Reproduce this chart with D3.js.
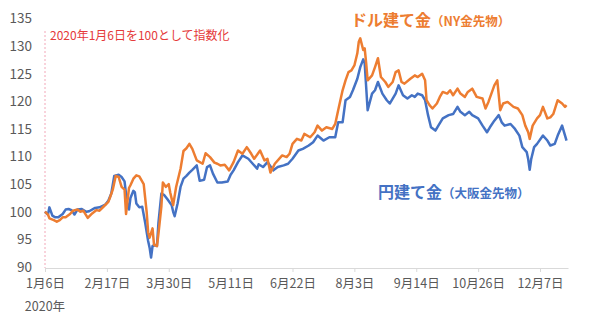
<!DOCTYPE html>
<html><head><meta charset="utf-8">
<script src="https://cdn.jsdelivr.net/npm/d3@7"></script>
<style>
body{margin:0;background:#fff}
svg{display:block}
text{font-family:"Noto Sans CJK JP","Noto Sans",sans-serif}
</style>
</head><body>
<svg id="c" width="600" height="323"></svg>
<script>
// ---- data ----
const usdDates=["01-06","01-08","01-09","01-12","01-14","01-16","01-18","01-20","01-23","01-25","01-28","01-30","02-01","02-04","02-07","02-10","02-12","02-15","02-18","02-19","02-21","02-23","02-25","02-27","02-29","03-01","03-03","03-04","03-06","03-08","03-10","03-13","03-15","03-16","03-17","03-19","03-20","03-22","03-23","03-25","03-26","03-28","03-30","03-31","04-02","04-04","04-07","04-09","04-11","04-13","04-15","04-18","04-22","04-24","04-27","04-30","05-02","05-04","05-07","05-10","05-13","05-16","05-19","05-22","05-25","05-27","05-31","06-03","06-05","06-07","06-10","06-15","06-18","06-20","06-22","06-25","06-28","06-30","07-04","07-07","07-09","07-12","07-15","07-19","07-21","07-23","07-26","07-28","07-30","08-01","08-03","08-05","08-06","08-07","08-09","08-10","08-11","08-12","08-15","08-17","08-19","08-21","08-24","08-26","08-29","08-31","09-02","09-04","09-06","09-10","09-13","09-15","09-18","09-20","09-21","09-23","09-25","09-28","09-30","10-02","10-05","10-07","10-09","10-12","10-14","10-17","10-19","10-22","10-25","10-29","10-31","11-02","11-04","11-06","11-08","11-10","11-12","11-15","11-19","11-22","11-25","11-27","11-29","11-30","12-02","12-05","12-07","12-09","12-12","12-14","12-16","12-19","12-22","12-24","12-25"];
const usdValues=[100,99.5,98.8,98.5,98.2,98.5,99,99,99.6,100.2,100.4,100,100.2,98.9,99.7,100.3,100.2,101,101.8,102.5,104,106.5,106.3,104.5,104,99.6,104.3,104.8,106,106.6,106.4,105,100,96.3,95.3,97,94,93.8,96,101,105.3,104.5,105,103.5,101.2,104.5,107.8,111,111.5,112.3,111.4,109.3,108.7,110.6,109.9,108.9,108.7,108.4,108.5,107.5,109,111.1,110.5,111.7,110.5,109.6,111.1,109.3,109.6,107.1,108.7,110.2,109.9,110.5,112.3,113.2,112.9,114.1,113.5,114.4,115.6,114.7,115.3,115,115.9,118.4,122,123.8,125.3,125.6,126.5,128.7,130.8,131.4,129.3,129.6,126.9,123.8,124.7,126.2,127.8,124.4,123.5,122.6,123.5,125.3,125.6,123.5,123.2,124.1,124.7,124.4,125,123.8,120.2,119.3,118.7,119.6,120.8,121.7,121.4,122,121.1,122.3,121.4,120.8,121.7,122.3,120.8,120.5,118.7,119.9,121.4,122.9,123.8,118.4,119.6,119.9,119,118.7,117.5,115.6,114.4,113.2,115.6,116.9,117.5,119,116.9,117.1,117.7,120.2,119.6,119,119.3];
const jpyDates=["01-06","01-08","01-09","01-11","01-13","01-15","01-18","01-20","01-22","01-24","01-26","01-28","01-31","02-03","02-05","02-09","02-12","02-16","02-18","02-20","02-22","02-25","02-27","02-29","03-02","03-03","03-04","03-06","03-07","03-08","03-10","03-12","03-14","03-16","03-17","03-18","03-19","03-21","03-22","03-23","03-25","03-27","03-29","04-01","04-02","04-03","04-05","04-07","04-09","04-11","04-13","04-15","04-18","04-20","04-23","04-25","04-27","04-29","05-02","05-05","05-09","05-11","05-13","05-16","05-19","05-23","05-26","05-29","05-30","06-02","06-05","06-09","06-12","06-16","06-19","06-22","06-26","06-29","07-03","07-06","07-09","07-13","07-17","07-21","07-23","07-26","07-28","07-31","08-02","08-05","08-07","08-09","08-10","08-11","08-12","08-15","08-17","08-19","08-22","08-25","08-27","08-31","09-02","09-05","09-08","09-11","09-13","09-15","09-18","09-20","09-22","09-24","09-27","09-29","10-02","10-06","10-09","10-12","10-14","10-17","10-20","10-22","10-26","10-29","11-01","11-03","11-06","11-09","11-11","11-13","11-17","11-20","11-23","11-25","11-28","11-29","11-30","12-01","12-03","12-05","12-09","12-12","12-14","12-17","12-19","12-22","12-24","12-25"];
const jpyValues=[100,99.5,100.8,99.3,99,99,99.6,100.4,100.5,100.3,99.5,100.4,100.5,100,100.1,100.7,100.8,101.3,102,103.3,106.5,106.7,106.3,105.5,101,100.4,102.5,103.8,103.5,101.5,100.8,100.9,98,94.7,93.5,91.7,93.8,94,93.8,98,103.3,103,102.3,101.2,100,99.2,101.5,104.5,106,106.5,107.1,107.6,108.4,105.6,105.8,108.1,108.4,106.9,105.3,105.3,105.5,106.7,107.5,109,110.2,109.6,108.7,107.8,108.6,108.1,109,107.5,108.1,108.4,108.7,109.6,111.1,111.4,112,112.6,113.8,112.9,113.5,113.5,116.2,116.2,120.2,120.8,122,124.1,126.2,127.6,126.9,122.6,118.4,121.4,122,123.5,121.4,120.2,119.6,121.4,122.9,121.1,120.5,121.1,120.8,121.4,121.1,120.2,117.5,115.3,114.7,115.6,116.9,117.5,117.7,119,118.1,117.5,118.1,117.5,116.9,115.6,114.4,115.3,116.5,117.5,116.2,115.6,115.9,115,113.8,111.7,110.8,109.5,107.6,109.5,111.7,112.3,113.8,112.9,112,112.3,113.8,115.6,113.8,112.9];
const yTicks=[90,95,100,105,110,115,120,125,130,135];
const xTickDates=["01-06","02-17","03-30","05-11","06-22","08-03","09-14","10-26","12-07"];
const yearLabel="2020年";
const noteText="2020年1月6日を100として指数化";
const usdLabel=["ドル建て金","（NY金先物）"];
const jpyLabel=["円建て金","（大阪金先物）"];

// ---- chart ----
const parse=s=>d3.utcParse("%Y-%m-%d")("2020-"+s);
const svg=d3.select("#c");
const x=d3.scaleUtc().domain([parse("01-06"),parse("12-26")]).range([45,568]);
const y=d3.scaleLinear().domain([90,135]).range([267,18.5]);
const gray="#595959", orange="#ed7d31", blue="#4472c4";

// x axis
const xa=svg.append("g").attr("transform","translate(0,268)")
  .call(d3.axisBottom(x).tickValues(xTickDates.map(parse)).tickSize(4).tickSizeOuter(0)
    .tickPadding(7)
    .tickFormat(d=>`${d.getUTCMonth()+1}月${d.getUTCDate()}日`));
xa.select(".domain").attr("stroke","#d9d9d9");
xa.selectAll(".tick line").attr("stroke","#d9d9d9");
xa.selectAll(".tick text").attr("fill",gray).attr("font-size",12.5).attr("font-family",'"Noto Sans CJK JP",sans-serif');
svg.append("text").attr("x",x(parse("01-06"))).attr("y",311).attr("text-anchor","middle")
  .attr("fill",gray).attr("font-size",12.5).text(yearLabel);

// y axis
const ya=svg.append("g").attr("transform","translate(45,0)")
  .call(d3.axisLeft(y).tickValues(yTicks).tickSize(0).tickPadding(13));
ya.select(".domain").remove();
ya.selectAll(".tick text").attr("fill",gray).attr("font-size",13.5).attr("font-family",'"Noto Sans CJK JP",sans-serif');

// pink dotted vertical
svg.append("line").attr("x1",45).attr("x2",45).attr("y1",31).attr("y2",268)
  .attr("stroke","#f2a7b8").attr("stroke-width",1).attr("stroke-dasharray","2,2");

// note
svg.append("text").attr("x",50).attr("y",40).attr("fill","#e53a3a").attr("font-size",12).text(noteText);

// lines
const line=d3.line().x(d=>x(d.date)).y(d=>y(d.v)).curve(d3.curveLinear);
const jpy=jpyDates.map((d,i)=>({date:parse(d),v:jpyValues[i]}));
const usd=usdDates.map((d,i)=>({date:parse(d),v:usdValues[i]}));
svg.append("path").datum(jpy).attr("d",line).attr("fill","none").attr("stroke",blue)
  .attr("stroke-width",2.5).attr("stroke-linejoin","round");
svg.append("path").datum(usd).attr("d",line).attr("fill","none").attr("stroke",orange)
  .attr("stroke-width",2.5).attr("stroke-linejoin","round");

// labels
const t1=svg.append("text").attr("x",351).attr("y",26).attr("fill",orange).attr("font-weight","bold");
t1.append("tspan").attr("font-size",16).text(usdLabel[0]);
t1.append("tspan").attr("font-size",12.5).text(usdLabel[1]);
const t2=svg.append("text").attr("x",378).attr("y",198).attr("fill",blue).attr("font-weight","bold");
t2.append("tspan").attr("font-size",16).text(jpyLabel[0]);
t2.append("tspan").attr("font-size",12.5).text(jpyLabel[1]);
</script>
</body></html>
